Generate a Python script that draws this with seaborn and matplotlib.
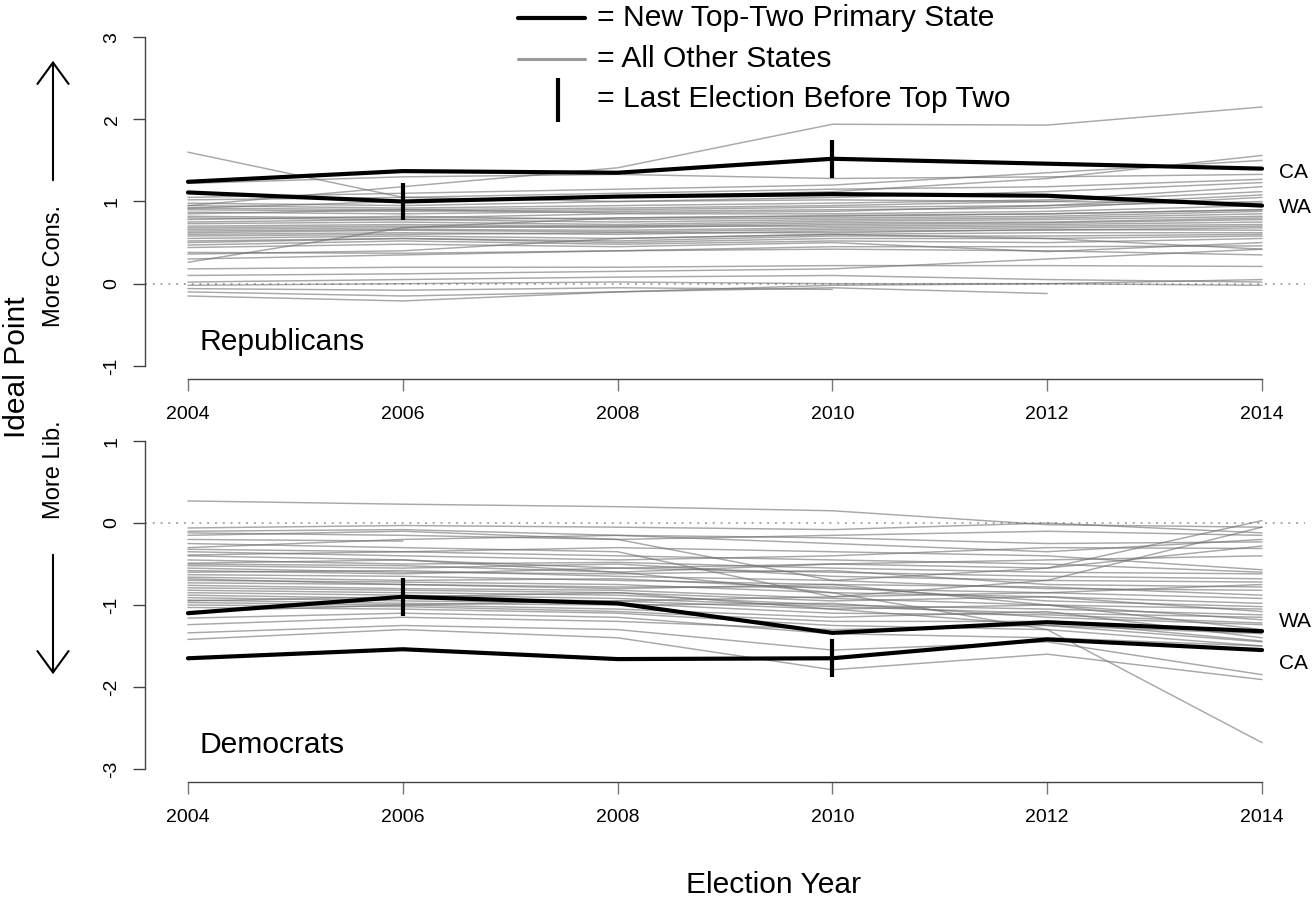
import numpy as np
import pandas as pd
import seaborn as sns
import matplotlib.pyplot as plt
from matplotlib.lines import Line2D
from matplotlib.patches import FancyArrowPatch

years = [2004, 2006, 2008, 2010, 2012, 2014]

# top-two primary states
rep_ca = [1.24, 1.37, 1.35, 1.52, 1.46, 1.40]
rep_wa = [1.11, 1.00, 1.06, 1.09, 1.07, 0.95]
dem_ca = [-1.65, -1.54, -1.66, -1.65, -1.42, -1.55]
dem_wa = [-1.10, -0.90, -0.98, -1.34, -1.21, -1.32]
last_before = {'CA': 2010, 'WA': 2006}

nan = np.nan
rep_other = [
    [1.60, 1.05, 1.00, 1.02, 1.00, 0.98],
    [0.95, 1.18, 1.41, 1.94, 1.93, 2.15],
    [1.22, 1.30, 1.33, 1.28, 1.30, 1.33],
    [0.92, 1.00, 1.05, 1.12, 1.28, 1.56],
    [1.05, 1.10, 1.15, 1.20, 1.35, 1.50],
    [1.02, 1.05, 1.10, 1.15, 1.18, 1.27],
    [0.98, 0.95, 1.00, 1.05, 1.12, 1.23],
    [0.95, 0.92, 0.95, 0.98, 1.02, 1.18],
    [0.92, 0.90, 0.92, 0.95, 1.00, 1.12],
    [0.90, 0.88, 0.90, 0.93, 0.95, 1.08],
    [0.87, 0.85, 0.88, 0.90, 0.92, 1.05],
    [0.85, 0.90, 0.86, 0.88, 0.95, 1.00],
    [0.82, 0.80, 0.85, 0.85, 0.88, 0.95],
    [0.80, 0.78, 0.80, 0.83, 0.85, 0.90],
    [0.78, 0.82, 0.78, 0.80, 0.82, 0.88],
    [0.75, 0.78, 0.75, 0.78, 0.80, 0.85],
    [0.73, 0.75, 0.72, 0.76, 0.78, 0.82],
    [0.70, 0.72, 0.70, 0.74, 0.75, 0.80],
    [0.68, 0.70, 0.68, 0.72, 0.74, 0.78],
    [0.66, 0.68, 0.70, 0.70, 0.72, 0.75],
    [0.64, 0.66, 0.65, 0.68, 0.70, 0.72],
    [0.62, 0.65, 0.63, 0.66, 0.68, 0.70],
    [0.60, 0.62, 0.60, 0.64, 0.65, 0.68],
    [0.58, 0.60, 0.62, 0.62, 0.66, 0.65],
    [0.55, 0.58, 0.55, 0.60, 0.62, 0.62],
    [0.52, 0.55, 0.52, 0.58, 0.58, 0.60],
    [0.50, 0.55, 0.50, 0.55, 0.55, 0.58],
    [0.47, 0.52, 0.48, 0.52, 0.50, 0.55],
    [0.44, 0.48, 0.45, 0.50, 0.39, 0.50],
    [0.38, 0.37, 0.40, 0.45, 0.45, 0.46],
    [0.36, 0.40, 0.55, 0.60, 0.55, 0.42],
    [0.26, 0.68, 0.80, 0.82, 0.85, 0.90],
    [0.30, 0.35, 0.40, 0.42, 0.40, 0.35],
    [0.18, 0.20, 0.20, 0.22, 0.22, 0.21],
    [0.10, 0.12, 0.15, 0.18, 0.30, 0.42],
    [0.02, 0.05, 0.08, 0.10, 0.05, 0.02],
    [-0.02, 0.00, 0.02, 0.00, 0.00, -0.02],
    [-0.06, -0.08, -0.05, -0.07, nan, nan],
    [-0.10, -0.15, -0.10, -0.05, -0.12, nan],
    [-0.15, -0.21, -0.10, -0.02, 0.00, 0.05],
]

dem_other = [
    [0.27, 0.23, 0.20, 0.15, -0.02, -0.05],
    [-0.06, -0.03, -0.05, -0.08, 0.00, -0.12],
    [-0.15, -0.10, -0.20, -0.70, -0.55, 0.03],
    [-0.20, -0.22, nan, nan, nan, nan],
    [-0.25, -0.30, -0.35, -0.90, -0.70, -0.05],
    [-0.30, -0.20, -0.15, -0.18, -0.25, -0.23],
    [-0.35, -0.40, -0.45, -0.40, -0.30, -0.31],
    [-0.39, -0.35, -0.30, -0.35, -0.40, -0.57],
    [-0.45, -0.50, -0.48, -0.55, -0.60, -0.62],
    [-0.49, -0.45, -0.55, -0.60, -0.65, -0.68],
    [-0.52, -0.55, -0.50, -0.65, -0.70, -0.72],
    [-0.55, -0.60, -0.62, -0.58, -0.75, -0.78],
    [-0.60, -0.58, -0.65, -0.70, -0.80, -0.82],
    [-0.63, -0.65, -0.70, -0.75, -0.78, -0.88],
    [-0.66, -0.70, -0.68, -0.80, -0.85, -0.92],
    [-0.70, -0.72, -0.75, -0.85, -0.90, -0.98],
    [-0.73, -0.75, -0.78, -0.78, -0.95, -1.02],
    [-0.76, -0.80, -0.82, -0.92, -1.00, -1.05],
    [-0.79, -0.82, -0.85, -0.95, -0.90, -1.08],
    [-0.82, -0.85, -0.88, -1.00, -1.05, -1.12],
    [-0.85, -0.88, -0.92, -1.02, -1.10, -1.15],
    [-0.88, -0.92, -0.95, -1.05, -1.00, -1.18],
    [-0.91, -0.95, -0.98, -1.10, -1.12, -1.22],
    [-0.94, -0.98, -1.00, -0.98, -1.15, -1.24],
    [-0.97, -1.00, -1.05, -1.15, -1.08, -1.40],
    [-1.00, -1.02, -1.08, -1.20, -1.20, -1.44],
    [-1.03, -1.05, -1.10, -1.25, -1.30, -1.50],
    [-1.16, -1.10, -1.15, -1.35, -1.40, -1.50],
    [-1.24, -1.15, -1.20, -1.30, -1.25, -1.45],
    [-1.42, -1.30, -1.40, -1.79, -1.60, -1.91],
    [-1.34, -1.25, -1.30, -1.55, -1.45, -1.85],
    [-0.40, -0.45, -0.60, -0.85, -1.30, -2.68],
    [-0.10, -0.08, -0.15, -0.25, -0.35, -0.20],
    [-0.58, -0.62, -0.55, -0.50, -0.45, -0.40],
    [-1.08, -1.00, -0.95, -0.90, -0.85, -0.75],
    [-0.68, -0.75, -0.80, -0.75, -1.00, -1.30],
    [-0.50, -0.52, -0.60, -0.50, -0.55, -0.28],
    [-0.32, -0.35, -0.40, -0.45, -0.50, -0.60],
    [-0.95, -0.90, -0.85, -1.05, -1.25, -1.35],
    [-0.12, -0.15, -0.20, -0.15, -0.10, -0.15],
]

W, H = 1315, 897


def px(x, y):
    return x / W, 1 - y / H


def to_long(rows):
    recs = []
    for i, row in enumerate(rows):
        for yr, v in zip(years, row):
            if not np.isnan(v):
                recs.append({'state': i, 'year': yr, 'value': v})
    return pd.DataFrame(recs)


def draw_panel(ax, others, ca, wa, yticks, label, label_y, offsets):
    sns.lineplot(data=to_long(others), x='year', y='value', units='state',
                 estimator=None, color='#6e6e6e', alpha=0.6, lw=1.05,
                 legend=False, ax=ax)
    ax.axhline(0, color='#a8a8a8', lw=1.4, ls=(0, (1, 3)), zorder=1)
    for name, vals in (('CA', ca), ('WA', wa)):
        sns.lineplot(x=years, y=vals, color='black', lw=3.0, ax=ax, zorder=5)
        yr = last_before[name]
        v = vals[years.index(yr)]
        ax.plot([yr, yr], [v - 0.23, v + 0.23], color='black', lw=3.0,
                solid_capstyle='butt', zorder=6)
        ax.text(2014.16, vals[-1] + offsets[name], name, fontsize=15,
                ha='left', va='baseline')

    ax.set_xlim(2004 - 0.4, 2014 + 0.4)
    ax.set_ylim(yticks[0] - 0.16, yticks[-1] + 0.16)
    ax.set_xticks(years)
    ax.set_yticks(yticks)
    ax.set_yticklabels([str(t) for t in yticks], rotation=90, va='center')
    ax.set_xlabel('')
    ax.set_ylabel('')
    for s in ('top', 'right'):
        ax.spines[s].set_visible(False)
    ax.spines['left'].set_bounds(yticks[0], yticks[-1])
    ax.spines['bottom'].set_bounds(2004, 2014)
    for s in ('left', 'bottom'):
        ax.spines[s].set_color('#444444')
        ax.spines[s].set_linewidth(1.0)
    ax.tick_params(axis='x', bottom=True, direction='out', length=8.6, width=1.0,
                   color='#777777', labelcolor='black', labelsize=14, pad=11)
    ax.tick_params(axis='y', left=True, direction='out', length=8.6, width=1.0,
                   color='#444444', labelcolor='black', labelsize=14, pad=9)
    ax.text(2004 + 12 / 107.4, label_y, label, fontsize=21.6,
            ha='left', va='baseline')


sns.set_style('white')
plt.rcParams['font.family'] = ['Liberation Sans', 'DejaVu Sans']
plt.rcParams['text.color'] = 'black'

fig = plt.figure(figsize=(W / 100, H / 100), dpi=100)
ax_r = fig.add_axes([145 / W, 1 - 379 / H, 1160 / W, 355 / H])
ax_d = fig.add_axes([145 / W, 1 - 782 / H, 1160 / W, 354 / H])

draw_panel(ax_r, rep_other, rep_ca, rep_wa, [-1, 0, 1, 2, 3], 'Republicans',
           (284 - 350) / 82, {'CA': -0.11, 'WA': -0.085})
draw_panel(ax_d, dem_other, dem_ca, dem_wa, [-3, -2, -1, 0, 1], 'Democrats',
           (523 - 753) / 82, {'CA': -0.23, 'WA': 0.05})

# legend drawn on the figure
fig.add_artist(Line2D([518 / W, 585 / W], [1 - 18 / H] * 2, color='black', lw=3.0))
fig.add_artist(Line2D([518 / W, 585 / W], [1 - 59 / H] * 2, color='#9a9a9a', lw=2.2))
fig.add_artist(Line2D([558 / W] * 2, [1 - 78 / H, 1 - 122 / H], color='black', lw=3.0,
                      solid_capstyle='butt'))
for txt, yb in (('= New Top-Two Primary State', 26),
                ('= All Other States', 67),
                ('= Last Election Before Top Two', 107)):
    fig.text(*px(597, yb), txt, fontsize=21.6, ha='left', va='baseline')

# y-axis annotations
fig.text(*px(17, 367), 'Ideal Point', fontsize=21.6, rotation=90,
         ha='center', va='center')
fig.text(*px(54, 266), 'More Cons.', fontsize=17, rotation=90,
         ha='center', va='center')
fig.text(*px(54, 470), 'More Lib.', fontsize=17, rotation=90,
         ha='center', va='center')
for y0, y1 in ((183, 58), (552, 677)):
    fig.add_artist(FancyArrowPatch(px(53, y0), px(53, y1), transform=fig.transFigure,
                                   arrowstyle='->,head_length=0.55,head_width=0.4',
                                   mutation_scale=28, lw=1.5, color='black'))

fig.text(*px(774, 893), 'Election Year', fontsize=21.6, ha='center', va='baseline')

fig.savefig('out.png', dpi=100)
plt.close(fig)
